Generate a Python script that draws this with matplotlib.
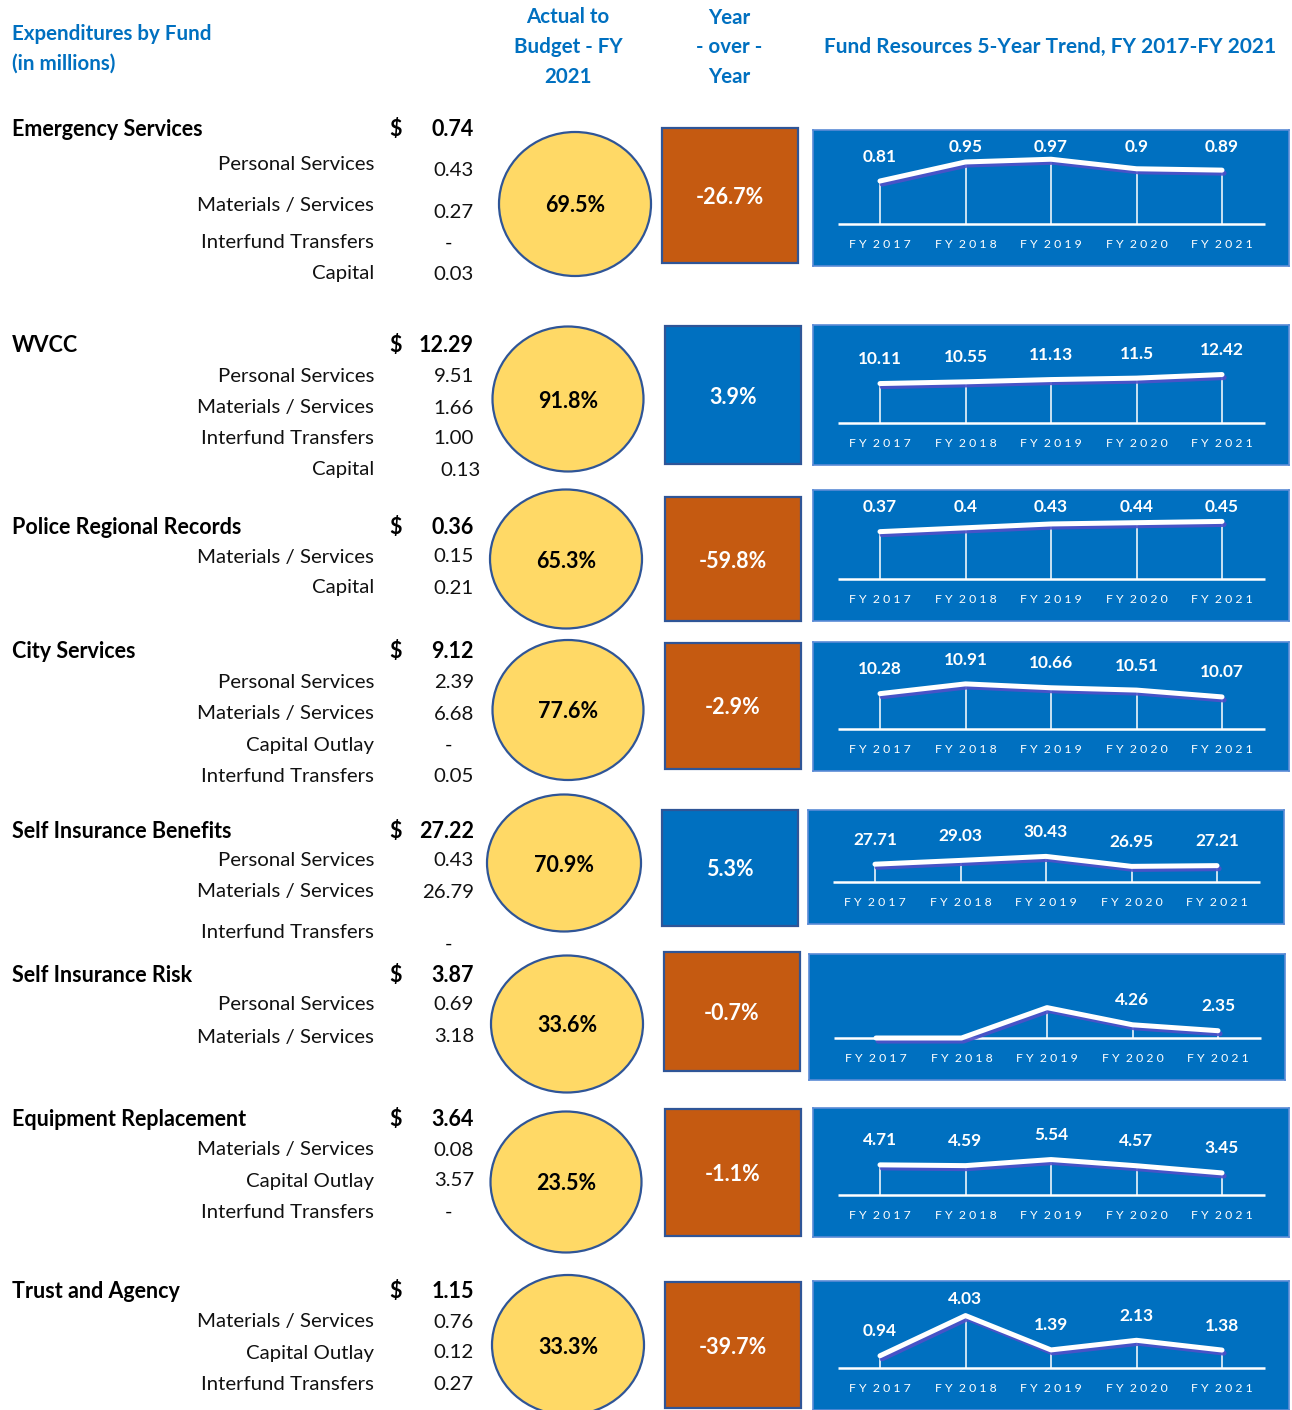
import matplotlib
matplotlib.use("Agg")
import matplotlib.pyplot as plt
import matplotlib.patheffects as pe
import matplotlib.transforms as mtransforms
from matplotlib.patches import Ellipse, Rectangle

plt.rcParams['font.family'] = ['Lato', 'DejaVu Sans']

# ---- data (in millions) ----
funds = ["Emergency Services", "WVCC", "Police Regional Records", "City Services",
         "Self Insurance Benefits", "Self Insurance Risk", "Equipment Replacement",
         "Trust and Agency"]
totals = [0.74, 12.29, 0.36, 9.12, 27.22, 3.87, 3.64, 1.15]
item_names = [
    ["Personal Services", "Materials / Services", "Interfund Transfers", "Capital"],
    ["Personal Services", "Materials / Services", "Interfund Transfers", "Capital"],
    ["Materials / Services", "Capital"],
    ["Personal Services", "Materials / Services", "Capital Outlay", "Interfund Transfers"],
    ["Personal Services", "Materials / Services", "Interfund Transfers"],
    ["Personal Services", "Materials / Services"],
    ["Materials / Services", "Capital Outlay", "Interfund Transfers"],
    ["Materials / Services", "Capital Outlay", "Interfund Transfers"],
]
item_values = [
    [0.43, 0.27, None, 0.03],
    [9.51, 1.66, 1.00, 0.13],
    [0.15, 0.21],
    [2.39, 6.68, None, 0.05],
    [0.43, 26.79, None],
    [0.69, 3.18],
    [0.08, 3.57, None],
    [0.76, 0.12, 0.27],
]
budget_pct = [69.5, 91.8, 65.3, 77.6, 70.9, 33.6, 23.5, 33.3]
yoy_pct = [-26.7, 3.9, -59.8, -2.9, 5.3, -0.7, -1.1, -39.7]

years = ["FY 2017", "FY 2018", "FY 2019", "FY 2020", "FY 2021"]
trend = [
    [0.81, 0.95, 0.97, 0.9, 0.89],
    [10.11, 10.55, 11.13, 11.5, 12.42],
    [0.37, 0.4, 0.43, 0.44, 0.45],
    [10.28, 10.91, 10.66, 10.51, 10.07],
    [27.71, 29.03, 30.43, 26.95, 27.21],
    [0, 0, 9.8, 4.26, 2.35],
    [4.71, 4.59, 5.54, 4.57, 3.45],
    [0.94, 4.03, 1.39, 2.13, 1.38],
]
trend_labeled = [
    [True] * 5, [True] * 5, [True] * 5, [True] * 5, [True] * 5,
    [False, False, False, True, True],
    [True] * 5, [True] * 5,
]

# ---- layout (pixels) ----
W, H = 1292, 1410
BLUE = "#0070C0"
ORANGE = "#C55A11"
EDGE = "#2F5597"
FS_HEAD = 14.8
FS_NAME = 15.5
FS_ITEM = 14.7
FS_BOX = 15.5
DY = 2  # Lato sits a little higher than the original font

header_y = [127, 344, 525, 650, 829, 973, 1117, 1289]
label_y = [[162, 204, 241, 272], [375, 406, 437, 468], [555, 586],
           [681, 712, 743, 774], [859, 890, 931], [1003, 1035],
           [1148, 1179, 1210], [1320, 1351, 1382]]
value_y = [[168, 210, 241, 272], [375, 406, 437, 468], [555, 586],
           [681, 712, 743, 774], [859, 890, 942], [1003, 1035],
           [1148, 1179, 1210], [1320, 1351, 1382]]
value_x_shift = {(1, 3): 7}
circles = [(575, 204, 152, 144), (568, 399, 151, 145), (566, 559, 152, 139),
           (568, 710, 151, 140), (564, 863, 154, 137), (567, 1024, 152, 137),
           (566, 1182, 151, 141), (568, 1345, 152, 140)]
squares = [(662, 128, 136, 135), (665, 326, 136, 138), (665, 497, 136, 124),
           (665, 643, 136, 126), (662, 810, 136, 116), (664, 952, 136, 119),
           (665, 1109, 136, 127), (665, 1282, 136, 126)]
panels = [(813, 130, 476, 136), (813, 325, 476, 140), (813, 490, 476, 131),
          (813, 642, 476, 129), (808, 810, 476, 114), (809, 954, 476, 126),
          (813, 1108, 476, 129), (813, 1281, 476, 129)]
# value range shown over 80 px above the baseline of each sparkline
axis_range = [(0.494, 1.082), (0, 20.5), (0, 0.625), (8.0, 13.16),
              (21.5, 49.4), (0, 25.8), (0, 12.5), (0, 6.15)]


def frac(x0, y0, w, h):
    return [x0 / W, 1 - (y0 + h) / H, w / W, h / H]


fig = plt.figure(figsize=(W / 100, H / 100), dpi=100)
ov = fig.add_axes([0, 0, 1, 1])
ov.set_xlim(0, W)
ov.set_ylim(H, 0)
ov.axis("off")

# headers
ov.text(12, 32 + DY, "Expenditures by Fund", color=BLUE, fontsize=FS_HEAD, weight="bold", va="center")
ov.text(12, 62 + DY, "(in millions)", color=BLUE, fontsize=FS_HEAD, weight="bold", va="center")
for txt, y in zip(["Actual to", "Budget - FY", "2021"], [15, 45, 75]):
    ov.text(568, y + DY, txt, color=BLUE, fontsize=FS_HEAD, weight="bold", ha="center", va="center")
for txt, y in zip(["Year", "- over -", "Year"], [16, 45, 75]):
    ov.text(729, y + DY, txt, color=BLUE, fontsize=FS_HEAD, weight="bold", ha="center", va="center")
ov.text(1050, 45 + DY, "Fund Resources 5-Year Trend, FY 2017-FY 2021", color=BLUE,
        fontsize=15, weight="bold", ha="center", va="center")

for i, name in enumerate(funds):
    hy = header_y[i] + DY
    ov.text(12, hy, name, fontsize=FS_NAME, weight="bold", va="center")
    ov.text(396, hy, "$", fontsize=FS_NAME, weight="bold", ha="center", va="center")
    ov.text(474, hy, f"{totals[i]:.2f}", fontsize=FS_NAME, weight="bold", ha="right", va="center")
    for j, item in enumerate(item_names[i]):
        ov.text(374, label_y[i][j] + DY, item, fontsize=FS_ITEM, ha="right", va="center", color="#111111")
        v = item_values[i][j]
        if v is None:
            ov.text(448, value_y[i][j] + DY, "-", fontsize=FS_ITEM, ha="center", va="center")
        else:
            ov.text(474 + value_x_shift.get((i, j), 0), value_y[i][j] + DY, f"{v:.2f}",
                    fontsize=FS_ITEM, ha="right", va="center", color="#111111")

    cx, cy, cw, ch = circles[i]
    ov.add_patch(Ellipse((cx, cy), cw, ch, facecolor="#FFD966", edgecolor=EDGE, lw=1.6))
    ov.text(cx, cy + DY, f"{budget_pct[i]:.1f}%", fontsize=FS_BOX, weight="bold", ha="center", va="center")

    sx, sy, sw, sh = squares[i]
    col = ORANGE if yoy_pct[i] < 0 else BLUE
    ov.add_patch(Rectangle((sx, sy), sw, sh, facecolor=col, edgecolor=EDGE, lw=1.6))
    ov.text(sx + sw / 2, sy + sh / 2 + DY, f"{yoy_pct[i]:.1f}%", fontsize=FS_BOX, weight="bold",
            color="white", ha="center", va="center")

    # sparkline panel
    px, py, pw, ph = panels[i]
    bg = fig.add_axes(frac(px, py, pw, ph))
    bg.set_facecolor(BLUE)
    bg.set_xticks([])
    bg.set_yticks([])
    for s in bg.spines.values():
        s.set_color("#5B8BD6")
        s.set_linewidth(1.2)

    base = py + ph - 42
    ax = fig.add_axes(frac(px, base - 80, pw, 80))
    ax.patch.set_alpha(0)
    ax.axis("off")
    lo, hi = axis_range[i]
    xs = list(range(len(years)))
    ax.set_xlim(-67 / 85.5, (pw - 67) / 85.5)
    ax.set_ylim(lo, hi)
    ax.hlines(lo, -0.49, 4.5, color="white", lw=1.8, clip_on=False)
    ax.vlines(xs, lo, trend[i], color="white", lw=1.3, alpha=0.85, clip_on=False)
    ax.plot(xs, trend[i], color="white", lw=3.6, solid_capstyle="round",
            solid_joinstyle="round", clip_on=False,
            path_effects=[pe.SimpleLineShadow(offset=(1.5, -2.2), shadow_color="#5050C8", alpha=0.9),
                          pe.Normal()])
    blend = mtransforms.blended_transform_factory(ax.transData, ax.transAxes)
    cap = ph - 42 - 16
    for k, yr in enumerate(years):
        ax.text(k, -20.5 / 80, " ".join(yr.replace(" ", "")).replace("Y ", "Y  "),
                transform=blend, color="white", fontsize=8.8, ha="center", va="center")
        if trend_labeled[i][k]:
            pxh = (trend[i][k] - lo) / (hi - lo) * 80
            ly = min(pxh + 26, cap) - 1.5
            ax.text(k, ly / 80, f"{trend[i][k]:g}", transform=blend, color="white",
                    fontsize=12.4, weight="bold", ha="center", va="center")

fig.savefig("out.png", dpi=100)
